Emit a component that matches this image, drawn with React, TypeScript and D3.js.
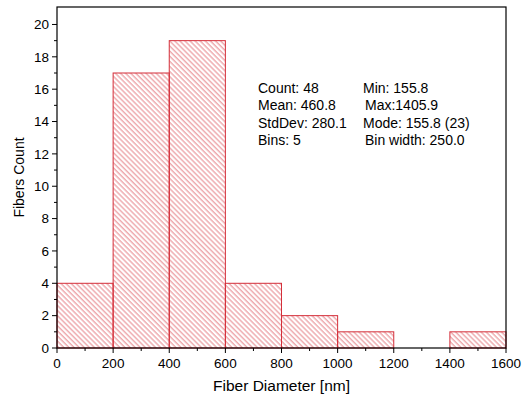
import React from 'react';
import * as d3 from 'd3';

// histogram bins (nm) and counts
const binStarts = [0, 200, 400, 600, 800, 1000, 1200, 1400];
const binWidth = 200;
const counts = [4, 17, 19, 4, 2, 1, 0, 1];

const xTicks = [0, 200, 400, 600, 800, 1000, 1200, 1400, 1600];
const yTicks = [0, 2, 4, 6, 8, 10, 12, 14, 16, 18, 20];

const statsLeft = ['Count: 48', 'Mean: 460.8', 'StdDev: 280.1', 'Bins: 5'];
const statsRight = ['Min: 155.8', 'Max:1405.9', 'Mode: 155.8 (23)', 'Bin width: 250.0'];

const W = 526;
const H = 400;
const margin = { top: 7, right: 20, bottom: 52, left: 57 };
const font = '"Liberation Sans", Arial, sans-serif';
const red = '#d42f3a';

export default function App() {
  const x = d3.scaleLinear().domain([0, 1600]).range([margin.left, W - margin.right]);
  const y = d3.scaleLinear().domain([0, 21.08]).range([H - margin.bottom, margin.top]);
  const x0 = x(0), x1 = x(1600), y0 = y(0), y1 = y(21.08);

  const xMinor = d3.range(100, 1600, 200);
  const yMinor = d3.range(1, 21, 2);

  return (
    <svg width={W} height={H} style={{ position: 'absolute', left: 0, top: 0, background: '#fff' }} fontFamily={font}>
      <defs>
        <pattern id="hatch" patternUnits="userSpaceOnUse" width={3.6} height={10} patternTransform="rotate(-45)">
          <line x1={1} y1={0} x2={1} y2={10} stroke={red} strokeWidth={0.8} strokeOpacity={0.8} />
        </pattern>
      </defs>

      {counts.map((c, i) =>
        c > 0 ? (
          <rect
            key={i}
            x={x(binStarts[i])}
            y={y(c)}
            width={x(binStarts[i] + binWidth) - x(binStarts[i])}
            height={y0 - y(c)}
            fill="url(#hatch)"
            stroke={red}
            strokeWidth={1}
          />
        ) : null
      )}

      {/* frame */}
      <rect x={x0} y={y1} width={x1 - x0} height={y0 - y1} fill="none" stroke="#000" strokeWidth={1.2} />

      {/* x ticks */}
      {xTicks.map((t) => (
        <g key={'x' + t}>
          <line x1={x(t)} x2={x(t)} y1={y0} y2={y0 + 5} stroke="#000" />
          <text x={x(t)} y={y0 + 20} fontSize={13.5} textAnchor="middle">{t}</text>
        </g>
      ))}
      {xMinor.map((t) => (
        <line key={'xm' + t} x1={x(t)} x2={x(t)} y1={y0} y2={y0 + 3} stroke="#000" />
      ))}

      {/* y ticks */}
      {yTicks.map((t) => (
        <g key={'y' + t}>
          <line x1={x0 - 5} x2={x0} y1={y(t)} y2={y(t)} stroke="#000" />
          <text x={x0 - 8} y={y(t) + 4.8} fontSize={13.5} textAnchor="end">{t}</text>
        </g>
      ))}
      {yMinor.map((t) => (
        <line key={'ym' + t} x1={x0 - 3} x2={x0} y1={y(t)} y2={y(t)} stroke="#000" />
      ))}

      {/* axis titles */}
      <text x={(x0 + x1) / 2} y={H - 9} fontSize={15.5} textAnchor="middle">Fiber Diameter [nm]</text>
      <text transform={`translate(24,${(y0 + y1) / 2}) rotate(-90)`} fontSize={14} textAnchor="middle">Fibers Count</text>

      {/* stats box */}
      {statsLeft.map((s, i) => (
        <text key={'sl' + i} x={258} y={93 + i * 17.3} fontSize={14}>{s}</text>
      ))}
      {statsRight.map((s, i) => (
        <text key={'sr' + i} x={i === 0 || i === 2 ? 363 : 365} y={93 + i * 17.3} fontSize={14}>{s}</text>
      ))}
    </svg>
  );
}
